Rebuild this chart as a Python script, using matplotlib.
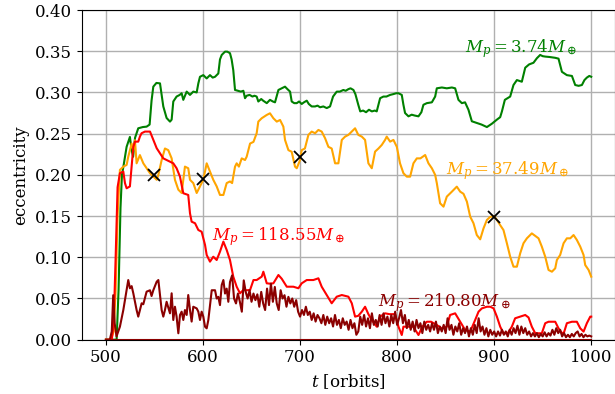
import numpy as np
import matplotlib
matplotlib.use("Agg")
import matplotlib.pyplot as plt

plt.rcParams['font.family'] = ['DejaVu Serif']
plt.rcParams['mathtext.fontset'] = 'dejavuserif'
plt.rcParams['font.size'] = 12

# ---------------- data ----------------
green_t = [500, 511, 513, 515, 516.5, 518, 521.3, 524.7, 526.5, 528, 530, 533.3, 538, 541.9, 545, 547,
           548.8, 552, 555.7, 559.1, 562.5, 566, 567.7, 569.4, 572.8, 576, 578, 579.7, 583.2, 586.6,
           590, 593.5, 595.2, 596.9, 600.3, 603.8, 607.2, 610, 612.4, 615.8, 617.5, 619.3, 622.7, 625,
           627.8, 629.5, 631.2, 633, 636, 639, 641.6, 643.3, 645, 648, 651, 653, 655.3, 657, 660, 662,
           665.7, 669, 672, 674.2, 677.7, 681, 684.5, 687, 689.7, 691.4, 694, 696.6, 699, 701.7, 704,
           706.9, 709, 712, 715.5, 718, 720.6, 724, 727.5, 730.9, 734, 737.8, 741, 744.6, 747, 749.8,
           752, 755, 757, 760, 762, 765, 768, 771, 774, 777, 779, 782.5, 785.9, 789, 792.8, 796.2, 799,
           801.4, 804.8, 806.5, 808.2, 811.7, 815, 818, 822, 825, 827.1, 830.6, 835.8, 839.2, 840.9,
           846.1, 851.2, 856.4, 859.8, 863.2, 866.7, 870, 873.5, 877, 882, 887, 892.5, 895, 897.6, 902.8,
           906.2, 908, 911, 916.5, 919.9, 923.4, 926, 928.5, 932, 936, 940.5, 944, 947.4, 950, 952.6,
           957, 962.9, 966.3, 969.8, 974.9, 980.1, 983.5, 987, 990.4, 993, 995.5, 998, 1000]
green_e = [0, 0, 0.06, 0.16, 0.20, 0.21, 0.234, 0.246, 0.23, 0.222, 0.245, 0.2565, 0.258, 0.2585, 0.261, 0.29,
           0.307, 0.3115, 0.311, 0.283, 0.269, 0.2646, 0.267, 0.289, 0.295, 0.297, 0.299, 0.291, 0.301, 0.297,
           0.301, 0.300, 0.311, 0.319, 0.321, 0.317, 0.321, 0.318, 0.319, 0.323, 0.340, 0.3455, 0.3495, 0.3495,
           0.3476, 0.340, 0.327, 0.303, 0.302, 0.301, 0.302, 0.293, 0.296, 0.297, 0.295, 0.296, 0.295, 0.289, 0.292, 0.290,
           0.287, 0.291, 0.289, 0.288, 0.303, 0.305, 0.307, 0.304, 0.301, 0.289, 0.287, 0.287, 0.289, 0.286, 0.288,
           0.290, 0.286, 0.283, 0.283, 0.284, 0.282, 0.283, 0.281, 0.283, 0.295, 0.301, 0.301, 0.303, 0.302, 0.304,
           0.305, 0.303, 0.298, 0.285, 0.277, 0.278, 0.276, 0.279, 0.277, 0.278, 0.277, 0.293, 0.295, 0.295, 0.297, 0.298, 0.299,
           0.299, 0.297, 0.285, 0.275, 0.271, 0.273, 0.272, 0.271, 0.276, 0.285, 0.287, 0.288, 0.295, 0.305,
           0.306, 0.305, 0.306, 0.305, 0.291, 0.287, 0.288, 0.279, 0.265, 0.263, 0.261, 0.258, 0.260, 0.262, 0.267,
           0.270, 0.277, 0.291, 0.295, 0.309, 0.315, 0.314, 0.313, 0.330, 0.334, 0.336, 0.3415, 0.3455, 0.344, 0.3435,
           0.343, 0.342, 0.341, 0.325, 0.321, 0.320, 0.309, 0.308, 0.309, 0.315, 0.318, 0.320, 0.319]

orange_t = [500, 505, 508, 510, 512, 514.4, 517.9, 521.3, 523, 526.5, 528.2, 529.9, 531.6, 535, 538.5, 541.9,
            545.4, 548.8, 552.3, 554, 557.4, 560.8, 564.2, 567.7, 571.1, 574.6, 578, 581.4, 584.8, 586.6,
            590, 593.5, 596.9, 600.3, 603.8, 607.2, 610.6, 614.1, 617.5, 621, 624.4, 627.8, 630, 633, 634.7,
            637, 639.9, 643.3, 645, 648.5, 652, 655.3, 657, 660.5, 665.7, 669, 672.5, 676, 679.4, 682.8,
            684.5, 688, 691.4, 694.8, 696.6, 700, 701.7, 705, 708.6, 712, 715.5, 718.9, 722.3, 725.8, 729.2,
            732.6, 736.1, 739.5, 743, 746.4, 749.8, 753.3, 756.7, 760, 763.6, 767, 770.4, 773.9, 777.3, 780.8,
            784.2, 787.6, 789.3, 792.8, 796.2, 799.7, 803, 806.5, 810, 813.4, 816.8, 820.3, 824, 828.9, 832.3,
            835.8, 839.2, 840.9, 844.3, 847.8, 851.2, 856.4, 861.5, 865, 868.4, 871.9, 875.3, 878.7, 882.1,
            885.6, 889, 892.5, 895.9, 900, 903, 906.2, 909.6, 913.1, 916.5, 919.9, 923.4, 926.8, 930.2, 933.7,
            937.1, 938.8, 942.3, 945.7, 949.1, 952.6, 956, 959.5, 962.9, 964.6, 968, 971.5, 974.9, 978.4,
            981.8, 985.2, 988.7, 992.1, 993.8, 997.3, 1000]
orange_e = [0, 0, 0.01, 0.06, 0.15, 0.206, 0.210, 0.212, 0.222, 0.238, 0.230, 0.242, 0.214, 0.224, 0.214, 0.208,
            0.202, 0.198, 0.194, 0.200, 0.218, 0.232, 0.230, 0.220, 0.194, 0.182, 0.178, 0.210, 0.208, 0.194,
            0.190, 0.178, 0.186, 0.194, 0.214, 0.204, 0.194, 0.186, 0.1756, 0.1756, 0.190, 0.192, 0.190, 0.210, 0.214,
            0.210, 0.220, 0.218, 0.222, 0.238, 0.240, 0.2505, 0.2646, 0.2687, 0.2727, 0.2747, 0.2687, 0.2646, 0.2666, 0.2585,
            0.2424, 0.230, 0.228, 0.210, 0.208, 0.218, 0.230, 0.232, 0.2485, 0.2525, 0.2505, 0.2545, 0.2525, 0.2444, 0.234,
            0.232, 0.214, 0.214, 0.2424, 0.2464, 0.2485, 0.2525, 0.2565, 0.2485, 0.2464, 0.2424, 0.214, 0.208, 0.2282, 0.232,
            0.2363, 0.2424, 0.2464, 0.2403, 0.2424, 0.234, 0.214, 0.202, 0.1978, 0.1978, 0.214, 0.220, 0.220, 0.2241, 0.214,
            0.208, 0.200, 0.190, 0.1655, 0.1614, 0.1736, 0.1796, 0.1857, 0.1796, 0.177, 0.1675, 0.1493, 0.1413, 0.127,
            0.1218, 0.135, 0.1453, 0.149, 0.150, 0.145, 0.139, 0.133, 0.117, 0.1007, 0.0886, 0.0886, 0.1048, 0.117, 0.123,
            0.127, 0.129, 0.126, 0.123, 0.1129, 0.1007, 0.0846, 0.0825, 0.0866, 0.0967, 0.1028, 0.117, 0.123, 0.123,
            0.127, 0.121, 0.1129, 0.1028, 0.0906, 0.0846, 0.0765]

red_t = [500, 506, 508, 510, 512, 514.4, 517.9, 519.6, 521.3, 524.7, 526.5, 528.2, 529.9, 533.3, 535, 536.7,
         540.2, 545.4, 548.8, 552.3, 555.7, 559.1, 562.5, 566, 569.4, 572.8, 576.3, 579.7, 584.8, 586.6,
         588.3, 591.8, 595.2, 598.6, 602.1, 603.8, 607.2, 610.6, 614.1, 617.5, 621, 624.4, 627.8, 631.2,
         634.7, 638.1, 641.6, 645, 648.5, 652, 655.3, 660.5, 662.2, 665.7, 669, 672.5, 677.7, 681.1, 686.3,
         693.1, 698.3, 701.7, 706.9, 713.7, 718.9, 722.3, 727.5, 732.6, 737.8, 743, 749.8, 753.3, 756.7,
         760, 763.6, 767, 770.4, 773.9, 779, 782.5, 787.6, 792, 797.9, 801.4, 804.8, 806.5, 811, 816.8,
         822, 826, 830.6, 835, 840.9, 846, 851.2, 854.6, 859.8, 865, 870.1, 875.3, 880.4, 883.9, 887.3,
         892.5, 896, 899.4, 902.8, 906.2, 909.6, 914, 918.2, 921.6, 926.8, 932, 935.4, 938.8, 942.3, 949.1,
         952.6, 956, 962.9, 966.3, 969.8, 972, 974.9, 980.1, 985.2, 988.7, 992.1, 995.5, 999, 1000]
red_e = [0, 0, 0.02, 0.10, 0.185, 0.202, 0.204, 0.190, 0.1837, 0.186, 0.210, 0.234, 0.2403, 0.2403, 0.2464, 0.2505,
         0.2525, 0.2525, 0.2424, 0.2323, 0.2262, 0.220, 0.218, 0.216, 0.214, 0.208, 0.1978, 0.1777, 0.1756, 0.1534,
         0.1432, 0.1413, 0.1331, 0.131, 0.115, 0.1028, 0.0947, 0.1007, 0.0967, 0.1068, 0.119, 0.1089, 0.0967, 0.0765,
         0.0643, 0.0563, 0.0603, 0.060, 0.0603, 0.0724, 0.0724, 0.0765, 0.0825, 0.0684, 0.068, 0.0684, 0.0785, 0.074, 0.0643,
         0.0643, 0.0624, 0.0684, 0.0724, 0.0724, 0.0745, 0.0643, 0.0542, 0.0442, 0.0522, 0.0542, 0.0522, 0.0442, 0.028,
         0.029, 0.034, 0.040, 0.031, 0.0239, 0.0158, 0.028, 0.032, 0.031, 0.031, 0.0158, 0.0057, 0.0158, 0.0158, 0.0158,
         0.0057, 0.0158, 0.0218, 0.0218, 0.0178, 0.0138, 0.0158, 0.030, 0.032, 0.0218, 0.0118, 0.0098, 0.0239, 0.034, 0.038,
         0.040, 0.040, 0.038, 0.028, 0.0158, 0.0078, 0.0078, 0.0158, 0.026, 0.028, 0.030, 0.027, 0.0158, 0.0078, 0.0078,
         0.020, 0.0218, 0.0218, 0.0138, 0.0078, 0.009, 0.020, 0.0218, 0.0218, 0.0138, 0.0098, 0.020, 0.028, 0.028]

darkred_t_early = [500, 504, 506, 507.5, 509, 510.9, 514.4, 517.9, 521.3, 523, 524.7, 526.5, 528.2, 531.6, 533.3,
                   536.8, 538.5, 541.9, 545.4, 547, 548.8, 552.3, 554, 557.4, 559.1, 560.8, 562.5, 566, 567.7,
                   569.4, 571.1, 572.8, 574.6, 576.3, 578, 579.7, 581.4, 583.2, 584.8, 586.6, 588.3, 590, 593.5,
                   595.2, 596.9, 598.6, 600.3, 602.1, 603.8, 605.5, 607.2, 609, 612.4, 614.1, 615.8, 617.5, 619.3,
                   621, 622.7, 624.4, 626.1, 627.8]
darkred_e_early = [0, 0, 0.01, 0.054, 0.02, 0.004, 0.0158, 0.036, 0.060, 0.0724, 0.0624, 0.065, 0.0563, 0.036, 0.028,
                   0.0442, 0.043, 0.0583, 0.060, 0.053, 0.060, 0.0704, 0.0724, 0.036, 0.028, 0.036, 0.046, 0.032, 0.0563,
                   0.0239, 0.040, 0.028, 0.0078, 0.030, 0.034, 0.0239, 0.036, 0.030, 0.0542, 0.036, 0.022, 0.040, 0.038,
                   0.034, 0.0239, 0.034, 0.028, 0.0158, 0.0138, 0.0239, 0.042, 0.060, 0.060, 0.050, 0.052, 0.042, 0.0664,
                   0.0724, 0.056, 0.062, 0.046, 0.070]
# later part sampled every 2 orbits from t = 630
darkred_e_late = [0.078, 0.050, 0.044, 0.056, 0.046, 0.034, 0.072,
                  0.058, 0.050, 0.060, 0.046, 0.056, 0.048, 0.055, 0.040, 0.058, 0.044, 0.036, 0.062, 0.042, 0.068,
                  0.046, 0.064, 0.044, 0.036, 0.060, 0.050, 0.054, 0.040, 0.052, 0.044, 0.050, 0.040, 0.048, 0.034,
                  0.028, 0.036, 0.030, 0.040, 0.030, 0.034, 0.024, 0.032, 0.022, 0.030, 0.026, 0.020, 0.030, 0.018, 0.028, 0.020,
                  0.026, 0.016, 0.030, 0.018, 0.024, 0.014, 0.026, 0.018, 0.022, 0.012, 0.024, 0.014, 0.020, 0.006, 0.010,
                  0.028, 0.018, 0.030, 0.016, 0.026, 0.014, 0.032, 0.018, 0.024, 0.016,
                  0.030, 0.018, 0.032, 0.020, 0.028, 0.016, 0.030, 0.020, 0.034, 0.018, 0.026, 0.036, 0.020, 0.030, 0.014, 0.024,
                  0.012, 0.022, 0.010, 0.024, 0.014, 0.020, 0.008, 0.022, 0.012, 0.018, 0.010, 0.020, 0.012, 0.022, 0.008, 0.016, 0.010, 0.018,
                  0.008, 0.026, 0.012, 0.018, 0.006, 0.016, 0.010, 0.020, 0.006, 0.014, 0.008, 0.016, 0.004,
                  0.014, 0.006, 0.018, 0.008, 0.026, 0.010, 0.016, 0.006, 0.014, 0.004, 0.012, 0.006, 0.010,
                  0.004, 0.010, 0.005, 0.012, 0.006, 0.010, 0.004, 0.012, 0.006, 0.014, 0.008, 0.017, 0.006, 0.016, 0.008, 0.014, 0.006, 0.010, 0.004, 0.008,
                  0.004, 0.008, 0.003, 0.007, 0.004, 0.009, 0.004, 0.008, 0.005, 0.012, 0.006, 0.014, 0.008, 0.012, 0.004,
                  0.008, 0.003, 0.006, 0.003, 0.007, 0.004, 0.008, 0.010, 0.004, 0.007, 0.003, 0.006, 0.004, 0.005, 0.004]

snap_t = [550, 600, 700, 900]
snap_e = [0.200, 0.195, 0.222, 0.149]

labels = [r"$M_p = 3.74M_\oplus$", r"$M_p = 37.49M_\oplus$",
          r"$M_p = 118.55M_\oplus$", r"$M_p = 210.80M_\oplus$"]
label_t = [870, 850.5, 609.5, 780.5]
label_e = [0.3488, 0.2011, 0.1202, 0.0400]
colors = ['green', 'orange', 'red', 'darkred']

xticks = [500, 600, 700, 800, 900, 1000]
yticks = [0.00, 0.05, 0.10, 0.15, 0.20, 0.25, 0.30, 0.35, 0.40]

# ---------------- plot ----------------
darkred_t_late = 630 + 2 * np.arange(len(darkred_e_late))
darkred_t = list(darkred_t_early) + list(darkred_t_late)
darkred_e = list(darkred_e_early) + list(darkred_e_late)

fig = plt.figure(figsize=(6.15, 3.94), dpi=100)
ax = fig.add_axes([0.1328, 0.1378, 0.868, 0.8368])

series = [(green_t, green_e), (orange_t, orange_e), (red_t, red_e), (darkred_t, darkred_e)]
for (t, e), c in zip(series, colors):
    ax.plot(t, e, color=c, lw=1.5, zorder=3)
ax.plot([darkred_t[0], darkred_t[-1]], [0, 0], color='darkred', lw=1.5, zorder=3)

ax.plot(snap_t, snap_e, 'x', color='black', ms=8, mew=1.3, zorder=5)

for s, x, y, c in zip(labels, label_t, label_e, colors):
    ax.text(x, y, s, color=c, fontsize=12, ha='left', va='baseline', zorder=6)

ax.set_xlim(475, 1025)
ax.set_ylim(0, 0.40)
ax.set_xticks(xticks)
ax.set_yticks(yticks)
ax.set_yticklabels([f"{v:.2f}" for v in yticks])
ax.tick_params(labelsize=12)
ax.grid(True, color='#b0b0b0', lw=1.0)
ax.set_axisbelow(True)
ax.set_xlabel(r"$t$ [orbits]", fontsize=12)
ax.set_ylabel("eccentricity", fontsize=12)

fig.savefig("out.png", dpi=100)
